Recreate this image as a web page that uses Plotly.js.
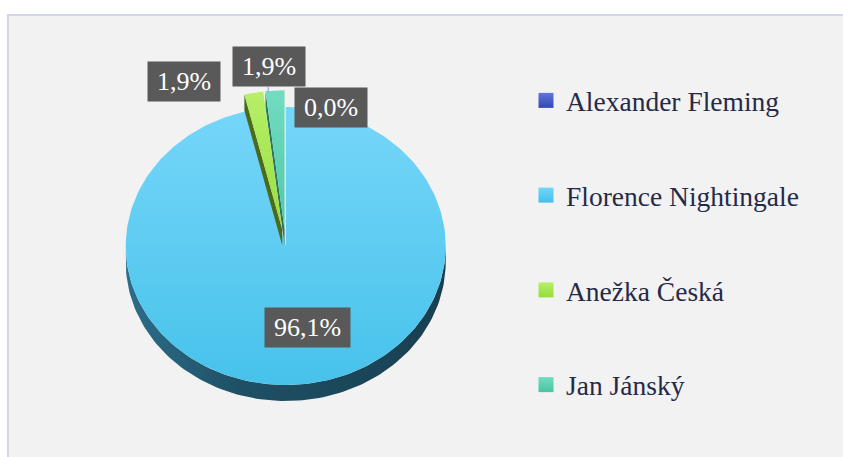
<!DOCTYPE html>
<html>
<head>
<meta charset="utf-8">
<script src="https://cdn.plot.ly/plotly-3.0.1.min.js"></script>
<style>html,body{margin:0;padding:0;background:#fff;}#chart{width:843px;height:457px;}</style>
</head>
<body>
<div id="chart"></div>
<script>
// ---- data ----
const categories = ['Alexander Fleming', 'Florence Nightingale', 'Anežka Česká', 'Jan Jánský'];
const values = [0.0, 96.1, 1.9, 1.9];
const valueLabels = values.map(v => v.toFixed(1).replace('.', ',') + '%');

// ---- style ----
const SERIF = 'Liberation Serif';
const topColors = [['#6478dc', '#3347b3'], ['#76d6f9', '#47c2eb'], ['#b6ef69', '#98de3e'], ['#72dcc0', '#4fc8a6']];
const faceColors = ['#22307a', '#1d4c61', '#4b6b1c', '#2c7562'];
const legendColors = [['#6176da', '#3347b5'], ['#72d6f8', '#44bfe9'], ['#b6ef69', '#95dc38'], ['#72dcc0', '#48c5a0']];
const pull = [0, 0, 0.12, 0.12];
const CX = 285.7, CY = 246, RX = 160, RY = 139, DEPTH = 16;
const labelBoxes = [ // [centerX, centerY, width, height] in pixels
  [331, 107.5, 72, 39],
  [307.5, 327.5, 85, 39],
  [184, 81.5, 72, 39],
  [269, 66.5, 72, 39]
];

const total = values.reduce((a, b) => a + b, 0);
const rad = d => d * Math.PI / 180;
let cum = 0;
const slices = values.map((v, i) => {
  const a0 = cum / total * 360;
  cum += v;
  const a1 = cum / total * 360;
  const mid = (a0 + a1) / 2;
  const ox = pull[i] * RX * Math.sin(rad(mid));
  const oy = -pull[i] * RY * Math.cos(rad(mid));
  return {i, a0, a1, ox, oy};
});

function pt(s, a, dy) {
  return [CX + s.ox + RX * Math.sin(rad(a)), CY + s.oy - RY * Math.cos(rad(a)) + (dy || 0)];
}
function arc(s, from, to, dy) {
  const n = Math.max(2, Math.ceil(Math.abs(to - from) / 1.5));
  const out = [];
  for (let k = 0; k <= n; k++) out.push(pt(s, from + (to - from) * k / n, dy));
  return out;
}
function poly(points, fill, grad) {
  const t = {
    type: 'scatter', mode: 'lines', fill: 'toself',
    x: points.map(p => p[0]), y: points.map(p => p[1]),
    line: {width: 0, color: fill}, fillcolor: fill,
    hoverinfo: 'skip', showlegend: false
  };
  if (grad) t.fillgradient = grad;
  return t;
}

const traces = [];
// side walls (front half of the rim)
slices.forEach(s => {
  if (s.a1 - s.a0 <= 0) return;
  const st = Math.max(s.a0, 90), en = Math.min(s.a1, 270);
  if (en <= st) return;
  const top = arc(s, st, en, 0);
  const bot = arc(s, en, st, DEPTH);
  traces.push(poly(top.concat(bot), faceColors[s.i], {
    type: 'horizontal',
    colorscale: [[0, '#2d6d89'], [0.35, '#1f5066'], [1, '#183f51']]
  }));
});
// tops (gradient: colorscale 0 = bottom of screen because the y axis is reversed)
function topPoly(s) {
  const c = [CX + s.ox, CY + s.oy];
  const pts = [c].concat(arc(s, s.a0, s.a1, 0)).concat([c]);
  return poly(pts, topColors[s.i][1], {type: 'vertical', colorscale: [[0, topColors[s.i][1]], [1, topColors[s.i][0]]]});
}
slices.filter(s => pull[s.i] === 0 && s.a1 > s.a0).forEach(s => traces.push(topPoly(s)));
// radial faces of pulled slices
slices.filter(s => pull[s.i] > 0 && s.a1 > s.a0).forEach(s => {
  const c = [CX + s.ox, CY + s.oy];
  const o = pt(s, s.a0, 0), o2 = pt(s, s.a0, DEPTH);
  traces.push(poly([c, o, o2, [c[0], c[1] + DEPTH], c], faceColors[s.i]));
});
slices.filter(s => pull[s.i] > 0 && s.a1 > s.a0).forEach(s => traces.push(topPoly(s)));

// legend entries
categories.forEach((name, i) => {
  traces.push({
    type: 'scatter', mode: 'markers', x: [null], y: [null], name: name,
    legendgroup: 'g' + i,
    marker: {symbol: 'square', size: 15, color: legendColors[i][0],
             gradient: {type: 'vertical', color: legendColors[i][1]}, line: {width: 0}},
    hoverinfo: 'skip'
  });
});

// value labels
const annotations = valueLabels.map((txt, i) => {
  const b = labelBoxes[i];
  return {
    x: b[0], y: b[1], xref: 'x', yref: 'y', text: txt, showarrow: false,
    font: {family: SERIF, size: 26, color: '#ffffff'},
    bgcolor: '#595959', borderpad: 0, width: b[2], height: b[3],
    align: 'center', valign: 'middle'
  };
});
// leader line for Jan Jánský label
(function () {
  const s = slices[3];
  const p = pt(s, (s.a0 + s.a1) / 2 - 2.5, 0);
  const b = labelBoxes[3];
  const a = annotations[3];
  a.x = p[0]; a.y = p[1] + 1;
  a.showarrow = true; a.arrowhead = 0; a.arrowwidth = 1; a.arrowcolor = '#8d9ad4';
  a.ax = b[0] - a.x; a.ay = b[1] - a.y;
})();

const layout = {
  width: 843, height: 457, autosize: false,
  margin: {l: 0, r: 0, t: 0, b: 0},
  paper_bgcolor: '#ffffff', plot_bgcolor: 'rgba(0,0,0,0)',
  font: {family: SERIF},
  xaxis: {range: [0, 843], visible: false, fixedrange: true},
  yaxis: {range: [457, 0], visible: false, fixedrange: true},
  showlegend: true,
  legend: {
    x: 526 / 843, y: 1 - 76 / 457, xanchor: 'left', yanchor: 'top',
    font: {family: SERIF, size: 27.5, color: '#262a48'},
    bgcolor: 'rgba(0,0,0,0)', borderwidth: 0,
    traceorder: 'grouped', tracegroupgap: 56, itemwidth: 30
  },
  shapes: [{
    type: 'rect', xref: 'x', yref: 'y', x0: 8, y0: 15, x1: 900, y1: 520,
    fillcolor: '#f2f2f2', line: {color: '#d3d6ea', width: 2}, layer: 'below'
  }],
  annotations: annotations
};

Plotly.newPlot('chart', traces, layout, {staticPlot: true, displayModeBar: false});
</script>
</body>
</html>
